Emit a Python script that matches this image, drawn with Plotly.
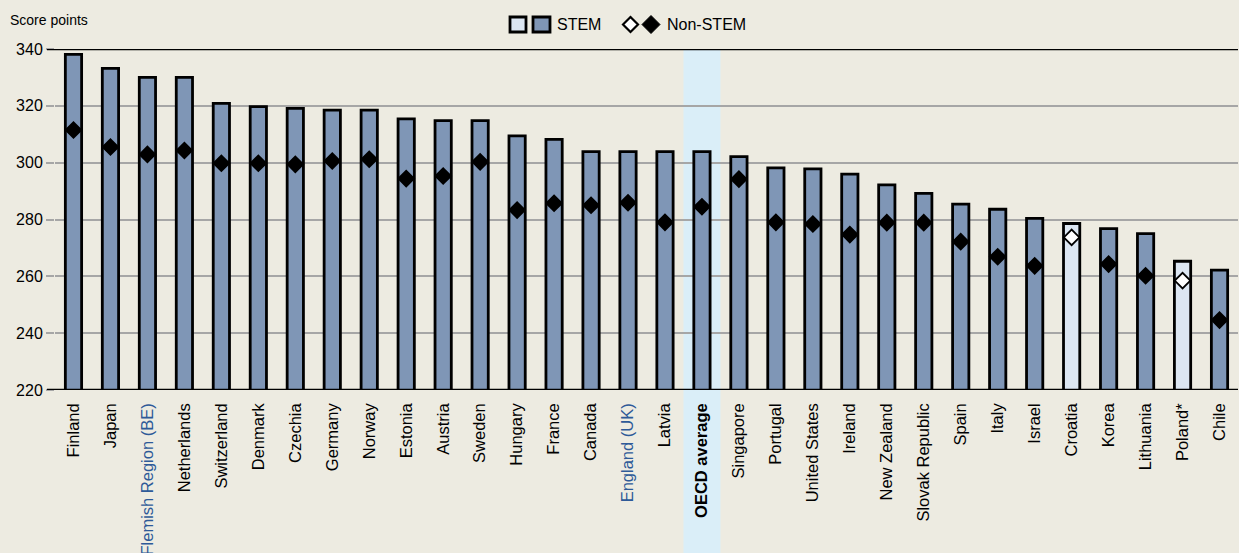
import plotly.graph_objects as go

categories = ["Finland", "Japan", "Flemish Region (BE)", "Netherlands", "Switzerland", "Denmark",
              "Czechia", "Germany", "Norway", "Estonia", "Austria", "Sweden", "Hungary", "France",
              "Canada", "England (UK)", "Latvia", "OECD average", "Singapore", "Portugal",
              "United States", "Ireland", "New Zealand", "Slovak Republic", "Spain", "Italy",
              "Israel", "Croatia", "Korea", "Lithuania", "Poland*", "Chile"]
stem = [338.1, 333.2, 330.0, 330.0, 320.9, 319.7, 319.1, 318.5, 318.5, 315.4, 314.8, 314.8,
        309.4, 308.2, 303.9, 303.9, 303.9, 303.9, 302.1, 298.2, 297.8, 296.0, 292.2, 289.2,
        285.4, 283.6, 280.4, 278.6, 276.8, 275.0, 265.3, 262.2]
non_stem = [311.5, 305.5, 302.9, 304.3, 299.8, 299.8, 299.4, 300.6, 301.2, 294.4, 295.3, 300.3,
            283.3, 285.7, 285.0, 285.9, 279.0, 284.5, 294.2, 279.0, 278.4, 274.7, 278.9, 278.9,
            272.2, 266.9, 263.7, 273.7, 264.3, 260.2, 258.5, 244.6]
light_group = ["Croatia", "Poland*"]
subnational = ["Flemish Region (BE)", "England (UK)"]
average_label = "OECD average"
y_ticks = [220, 240, 260, 280, 300, 320, 340]

FONT = "Arial, Liberation Sans, sans-serif"
BG = "#EDEBE1"
DARK = "#7F96B6"
LIGHT = "#DCE6F2"
BAND = "#DAEEF8"
GRID = "#A6A6A6"
SUBNAT = "#2E5A98"

W, H = 1239, 553
ML, MR, MT, MB = 55, 1, 49, 163
PW, PH = W - ML - MR, H - MT - MB


def px(x):
    return (x - ML) / PW


def py(y):
    return (H - MB - y) / PH


def label(c):
    if c in subnational:
        return f"<span style='color:{SUBNAT}'>{c}</span>"
    if c == average_label:
        return f"<b>{c}</b>"
    return c


bar_colors = [LIGHT if c in light_group else DARK for c in categories]
dia_colors = ["white" if c in light_group else "black" for c in categories]

fig = go.Figure()
fig.add_trace(go.Bar(
    x=categories, y=stem, width=0.44,
    marker=dict(color=bar_colors, line=dict(color="black", width=2.8)),
    showlegend=False, hoverinfo="x+y",
))
fig.add_trace(go.Scatter(
    x=categories, y=non_stem, mode="markers",
    marker=dict(symbol="diamond", size=12, color=dia_colors,
                line=dict(color="black", width=1.8)),
    showlegend=False,
))

avg_idx = categories.index(average_label)
shapes = [
    dict(type="rect", xref="x", yref="paper", x0=avg_idx - 0.5, x1=avg_idx + 0.5,
         y0=py(H + 5), y1=1, fillcolor=BAND, line=dict(width=0), layer="below"),
    dict(type="line", xref="paper", yref="y", x0=px(47), x1=1, y0=y_ticks[0], y1=y_ticks[0],
         line=dict(color="black", width=2.5), layer="above"),
    dict(type="line", xref="paper", yref="y", x0=px(47), x1=1, y0=y_ticks[-1], y1=y_ticks[-1],
         line=dict(color="black", width=2.5), layer="above"),
    # legend squares
    dict(type="rect", xref="paper", yref="paper", x0=px(510), x1=px(526), y0=py(32), y1=py(17),
         fillcolor=LIGHT, line=dict(color="black", width=2.8)),
    dict(type="rect", xref="paper", yref="paper", x0=px(533), x1=px(550), y0=py(32), y1=py(17),
         fillcolor=DARK, line=dict(color="black", width=2.8)),
]


def diamond(cx, cy, r):
    return (f"M {px(cx - r)} {py(cy)} L {px(cx)} {py(cy - r)} "
            f"L {px(cx + r)} {py(cy)} L {px(cx)} {py(cy + r)} Z")


shapes.append(dict(type="path", xref="paper", yref="paper", path=diamond(630.5, 24.5, 7.5),
                   fillcolor="white", line=dict(color="black", width=2.2)))
shapes.append(dict(type="path", xref="paper", yref="paper", path=diamond(651, 24.5, 9),
                   fillcolor="black", line=dict(color="black", width=1)))

annotations = [
    dict(text="Score points", xref="paper", yref="paper", x=px(8), y=py(20),
         xanchor="left", yanchor="middle", showarrow=False,
         font=dict(family=FONT, size=14, color="black")),
    dict(text="STEM", xref="paper", yref="paper", x=px(555), y=py(24.5),
         xanchor="left", yanchor="middle", showarrow=False,
         font=dict(family=FONT, size=16, color="black")),
    dict(text="Non-STEM", xref="paper", yref="paper", x=px(665), y=py(24.5),
         xanchor="left", yanchor="middle", showarrow=False,
         font=dict(family=FONT, size=16, color="black")),
]

fig.update_layout(
    width=W, height=H, autosize=False,
    margin=dict(l=ML, r=MR, t=MT, b=MB, pad=0),
    paper_bgcolor=BG, plot_bgcolor="rgba(0,0,0,0)",
    font=dict(family=FONT, color="black"),
    shapes=shapes, annotations=annotations,
    bargap=0.5, showlegend=False,
    xaxis=dict(type="category", range=[-0.5, len(categories) - 0.5],
               tickmode="array", tickvals=categories,
               ticktext=[label(c) for c in categories],
               tickangle=-90, showgrid=False, zeroline=False, showline=False,
               ticks="", ticklabelstandoff=9, automargin=False,
               tickfont=dict(family=FONT, size=16.5, color="black")),
    yaxis=dict(range=[y_ticks[0], y_ticks[-1]], tickmode="array", tickvals=y_ticks,
               showgrid=True, gridcolor=GRID, gridwidth=2, zeroline=False, showline=False,
               ticks="outside", ticklen=8, tickcolor=GRID, tickwidth=2, automargin=False,
               tickfont=dict(family=FONT, size=16, color="black")),
)

fig.write_html("out.html", config={"displayModeBar": False},
               post_script="document.body.style.margin='0';")
